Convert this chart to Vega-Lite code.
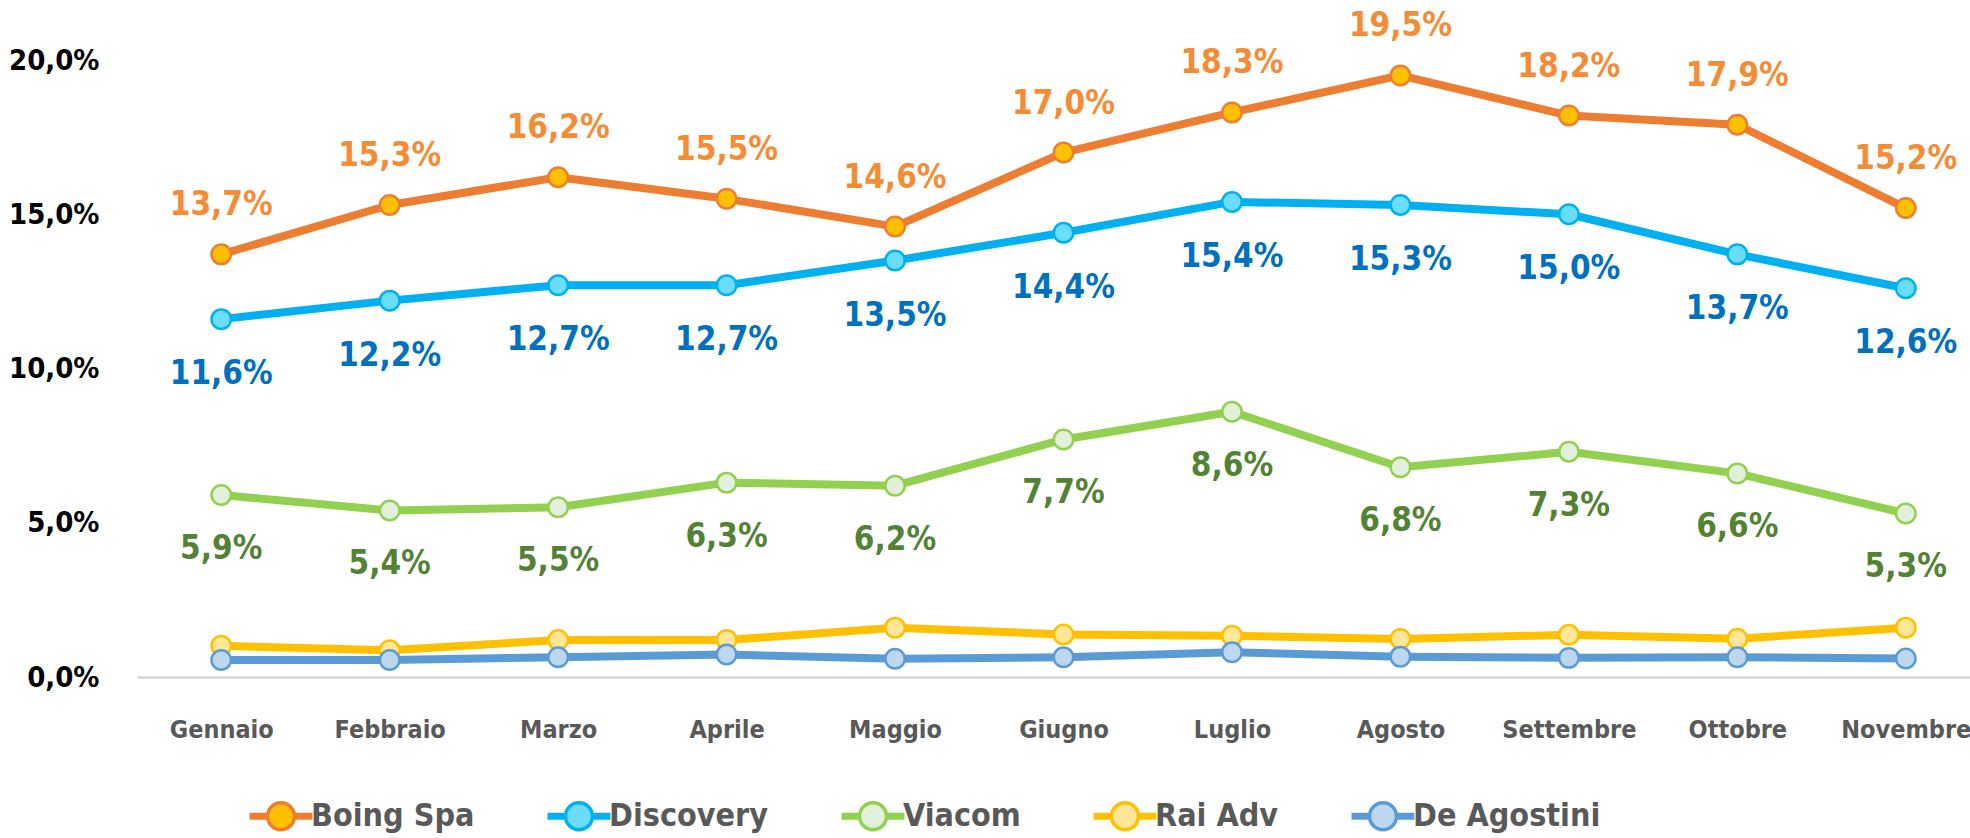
{
  "$schema": "https://vega.github.io/schema/vega-lite/v6.json",
  "width": 1833,
  "height": 617,
  "autosize": "none",
  "padding": {"left": 137, "top": 60, "right": 0, "bottom": 161},
  "background": "white",
  "data": {"values": [
    {"month": "Gennaio", "series": "Boing Spa", "v": 0.137},
    {"month": "Febbraio", "series": "Boing Spa", "v": 0.153},
    {"month": "Marzo", "series": "Boing Spa", "v": 0.162},
    {"month": "Aprile", "series": "Boing Spa", "v": 0.155},
    {"month": "Maggio", "series": "Boing Spa", "v": 0.146},
    {"month": "Giugno", "series": "Boing Spa", "v": 0.170},
    {"month": "Luglio", "series": "Boing Spa", "v": 0.183},
    {"month": "Agosto", "series": "Boing Spa", "v": 0.195},
    {"month": "Settembre", "series": "Boing Spa", "v": 0.182},
    {"month": "Ottobre", "series": "Boing Spa", "v": 0.179},
    {"month": "Novembre", "series": "Boing Spa", "v": 0.152},
    {"month": "Gennaio", "series": "Discovery", "v": 0.116},
    {"month": "Febbraio", "series": "Discovery", "v": 0.122},
    {"month": "Marzo", "series": "Discovery", "v": 0.127},
    {"month": "Aprile", "series": "Discovery", "v": 0.127},
    {"month": "Maggio", "series": "Discovery", "v": 0.135},
    {"month": "Giugno", "series": "Discovery", "v": 0.144},
    {"month": "Luglio", "series": "Discovery", "v": 0.154},
    {"month": "Agosto", "series": "Discovery", "v": 0.153},
    {"month": "Settembre", "series": "Discovery", "v": 0.150},
    {"month": "Ottobre", "series": "Discovery", "v": 0.137},
    {"month": "Novembre", "series": "Discovery", "v": 0.126},
    {"month": "Gennaio", "series": "Viacom", "v": 0.059},
    {"month": "Febbraio", "series": "Viacom", "v": 0.054},
    {"month": "Marzo", "series": "Viacom", "v": 0.055},
    {"month": "Aprile", "series": "Viacom", "v": 0.063},
    {"month": "Maggio", "series": "Viacom", "v": 0.062},
    {"month": "Giugno", "series": "Viacom", "v": 0.077},
    {"month": "Luglio", "series": "Viacom", "v": 0.086},
    {"month": "Agosto", "series": "Viacom", "v": 0.068},
    {"month": "Settembre", "series": "Viacom", "v": 0.073},
    {"month": "Ottobre", "series": "Viacom", "v": 0.066},
    {"month": "Novembre", "series": "Viacom", "v": 0.053},
    {"month": "Gennaio", "series": "Rai Adv", "v": 0.0101},
    {"month": "Febbraio", "series": "Rai Adv", "v": 0.0087},
    {"month": "Marzo", "series": "Rai Adv", "v": 0.012},
    {"month": "Aprile", "series": "Rai Adv", "v": 0.012},
    {"month": "Maggio", "series": "Rai Adv", "v": 0.016},
    {"month": "Giugno", "series": "Rai Adv", "v": 0.0138},
    {"month": "Luglio", "series": "Rai Adv", "v": 0.0134},
    {"month": "Agosto", "series": "Rai Adv", "v": 0.0123},
    {"month": "Settembre", "series": "Rai Adv", "v": 0.0137},
    {"month": "Ottobre", "series": "Rai Adv", "v": 0.0124},
    {"month": "Novembre", "series": "Rai Adv", "v": 0.016},
    {"month": "Gennaio", "series": "De Agostini", "v": 0.0055},
    {"month": "Febbraio", "series": "De Agostini", "v": 0.0055},
    {"month": "Marzo", "series": "De Agostini", "v": 0.0064},
    {"month": "Aprile", "series": "De Agostini", "v": 0.0073},
    {"month": "Maggio", "series": "De Agostini", "v": 0.0059},
    {"month": "Giugno", "series": "De Agostini", "v": 0.0064},
    {"month": "Luglio", "series": "De Agostini", "v": 0.008},
    {"month": "Agosto", "series": "De Agostini", "v": 0.0066},
    {"month": "Settembre", "series": "De Agostini", "v": 0.0062},
    {"month": "Ottobre", "series": "De Agostini", "v": 0.0064},
    {"month": "Novembre", "series": "De Agostini", "v": 0.006}
  ]},
  "encoding": {
    "x": {
      "field": "month", "type": "ordinal",
      "sort": ["Gennaio", "Febbraio", "Marzo", "Aprile", "Maggio", "Giugno", "Luglio", "Agosto", "Settembre", "Ottobre", "Novembre"],
      "scale": {"type": "point", "range": [0, 1853], "padding": 0.5},
      "axis": {
        "title": null, "ticks": false, "grid": false, "labelAngle": 0,
        "domainColor": "#D9D9D9", "domainWidth": 2.5,
        "labelFont": "DejaVu Sans Condensed, sans-serif",
        "labelFontSize": 25, "labelFontWeight": "bold", "labelColor": "#595959",
        "labelPadding": 40
      }
    },
    "y": {
      "field": "v", "type": "quantitative",
      "scale": {"domain": [0, 0.2], "nice": false},
      "axis": {
        "title": null, "ticks": false, "grid": false, "domain": false,
        "values": [0, 0.05, 0.1, 0.15, 0.2], "format": ".1%",
        "labelFont": "DejaVu Sans Condensed, sans-serif",
        "labelFontSize": 29, "labelFontWeight": "bold", "labelColor": "#000000",
        "labelPadding": 38
      }
    }
  },
  "layer": [
    {
      "mark": {"type": "line", "strokeWidth": 8, "strokeJoin": "round", "strokeCap": "round"},
      "encoding": {
        "color": {
          "field": "series", "type": "nominal", "legend": null,
          "sort": ["Boing Spa", "Discovery", "Viacom", "Rai Adv", "De Agostini"],
          "scale": {"range": ["#ED7D31", "#00B0F0", "#92D050", "#FFC000", "#5B9BD5"]}
        }
      }
    },
    {
      "mark": {"type": "point", "filled": true, "size": 380, "strokeWidth": 2.5, "opacity": 1},
      "encoding": {
        "fill": {
          "field": "series", "type": "nominal",
          "scale": {"domain": ["Boing Spa", "Discovery", "Viacom", "Rai Adv", "De Agostini"],
                    "range": ["#FFC000", "#6ADCFC", "#E2EFDA", "#FFE699", "#BDD7EE"]},
          "legend": {
            "title": null, "orient": "none", "legendX": 128, "legendY": 740, "direction": "horizontal",
            "padding": 0,
            "symbolType": "M-2.2,-0.13H-1V0.13H-2.2Z M1,-0.13H2.2V0.13H1Z M1,0A1,1,0,1,1,-1,0A1,1,0,1,1,1,0Z",
            "symbolSize": 729, "symbolStrokeWidth": 3.5,
            "labelFont": "DejaVu Sans Condensed, sans-serif",
            "labelFontSize": 32, "labelFontWeight": "bold", "labelColor": "#595959",
            "labelOffset": 14, "columnPadding": 67, "labelLimit": 400
          }
        },
        "stroke": {
          "field": "series", "type": "nominal",
          "scale": {"domain": ["Boing Spa", "Discovery", "Viacom", "Rai Adv", "De Agostini"],
                    "range": ["#ED7D31", "#00B0F0", "#92D050", "#FFC000", "#5B9BD5"]},
          "legend": {
            "title": null, "orient": "none", "legendX": 128, "legendY": 740, "direction": "horizontal",
            "padding": 0,
            "symbolType": "M-2.2,-0.13H-1V0.13H-2.2Z M1,-0.13H2.2V0.13H1Z M1,0A1,1,0,1,1,-1,0A1,1,0,1,1,1,0Z",
            "symbolSize": 729, "symbolStrokeWidth": 3.5,
            "labelFont": "DejaVu Sans Condensed, sans-serif",
            "labelFontSize": 32, "labelFontWeight": "bold", "labelColor": "#595959",
            "labelOffset": 14, "columnPadding": 67, "labelLimit": 400
          }
        }
      }
    },
    {
      "transform": [{"filter": {"field": "series", "equal": "Boing Spa"}}],
      "mark": {"type": "text", "dy": -49, "baseline": "middle", "align": "center",
               "font": "DejaVu Sans Condensed, sans-serif",
               "fontSize": 33, "fontWeight": "bold", "color": "#F68B36"},
      "encoding": {"text": {"field": "v", "type": "quantitative", "format": ".1%"}}
    },
    {
      "transform": [{"filter": {"field": "series", "equal": "Discovery"}}],
      "mark": {"type": "text", "dy": 55, "baseline": "middle", "align": "center",
               "font": "DejaVu Sans Condensed, sans-serif",
               "fontSize": 33, "fontWeight": "bold", "color": "#0070C0"},
      "encoding": {"text": {"field": "v", "type": "quantitative", "format": ".1%"}}
    },
    {
      "transform": [{"filter": {"field": "series", "equal": "Viacom"}}],
      "mark": {"type": "text", "dy": 54, "baseline": "middle", "align": "center",
               "font": "DejaVu Sans Condensed, sans-serif",
               "fontSize": 33, "fontWeight": "bold", "color": "#548235"},
      "encoding": {"text": {"field": "v", "type": "quantitative", "format": ".1%"}}
    }
  ],
  "config": {
    "view": {"stroke": null},
    "locale": {"number": {"decimal": ",", "thousands": ".", "grouping": [3], "currency": ["", " €"]}}
  }
}
